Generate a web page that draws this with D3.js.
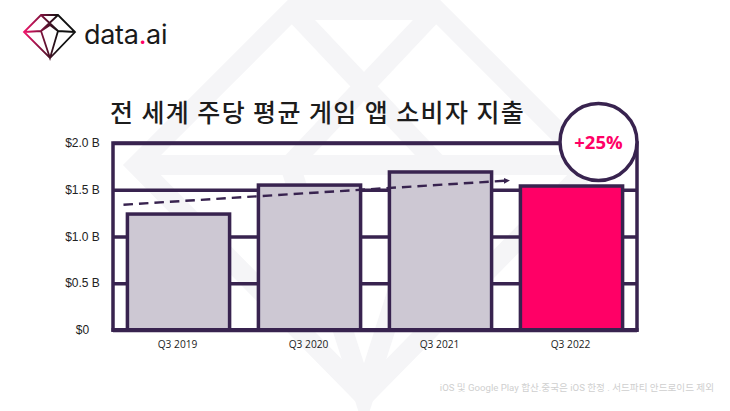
<!DOCTYPE html>
<html>
<head>
<meta charset="utf-8">
<script src="https://cdn.jsdelivr.net/npm/d3@7"></script>
<style>
    html, body { margin: 0; padding: 0; background: #fff; }
    svg { display: block; }
</style>
</head>
<body>
<div id="chart"></div>
<script>
var categories = ['Q3 2019', 'Q3 2020', 'Q3 2021', 'Q3 2022'];
var spend = [1.24, 1.55, 1.69, 1.54];
var yTicks = [0, 0.5, 1.0, 1.5, 2.0];
var yTickLabels = ['$0', '$0.5 B', '$1.0 B', '$1.5 B', '$2.0 B'];
var trendIndex = [-0.42, 2.53];
var trendValues = [1.34, 1.6];

var titleText = '전 세계 주당 평균 게임 앱 소비자 지출';
var growthText = '+25%';
var footnoteText = 'iOS 및 Google Play 합산.중국은 iOS 한정 . 서드파티 안드로이드 제외';

var width = 730, height = 411;
var dark = '#38234f', grey = '#cdc8d3', pink = '#ff0066', faint = '#f5f5f7';
var margin = {top: 143, right: 93, bottom: 81, left: 113};

var svg = d3.select('#chart').append('svg')
    .attr('width', width).attr('height', height);

// watermark gem behind everything
var gem = svg.append('g')
    .attr('fill', 'none')
    .attr('stroke', faint)
    .attr('stroke-width', 20)
    .attr('stroke-linejoin', 'miter')
    .attr('stroke-miterlimit', 6);
gem.append('path').attr('d', 'M292,10 L436,10 L591,165 L364,396 L137,165 Z');
gem.append('path').attr('d', 'M137,165 L591,165');
gem.append('path').attr('d', 'M292,10 L438,165 L364,396 L290,165 L436,10');

// logo
var defs = svg.append('defs');
var logoGrad = defs.append('linearGradient')
    .attr('id', 'logoGrad')
    .attr('gradientUnits', 'userSpaceOnUse')
    .attr('x1', 24).attr('x2', 58).attr('y1', 32).attr('y2', 32);
logoGrad.append('stop').attr('offset', '0%').attr('stop-color', '#f0146a');
logoGrad.append('stop').attr('offset', '100%').attr('stop-color', '#111111');

svg.append('path')
    .attr('d', 'M41,15 L58,15 L75,32 L50,58 L24,32 Z M24,32 L41,31 L50,58 L58,31 L75,32 M41,15 L58,31 M58,15 L41,31 M41,31 L50,25 L58,31')
    .attr('fill', 'none')
    .attr('stroke', 'url(#logoGrad)')
    .attr('stroke-width', 1.8)
    .attr('stroke-linejoin', 'miter');

var logoText = svg.append('text')
    .attr('x', 84).attr('y', 44)
    .style('font-family', 'Inter, sans-serif')
    .style('font-size', '27px')
    .style('font-weight', 400)
    .style('letter-spacing', '-0.3px')
    .style('fill', '#1a1a1a');
logoText.append('tspan').text('data');
logoText.append('tspan').text('.').style('fill', pink);
logoText.append('tspan').text('ai');

// title
svg.append('text')
    .attr('x', 110).attr('y', 122)
    .text(titleText)
    .style('font-family', '"Noto Sans CJK KR", sans-serif')
    .style('font-size', '25px')
    .style('font-weight', 500)
    .style('letter-spacing', '1.4px')
    .style('fill', '#1c1c1c');

var x = d3.scaleBand()
    .domain(categories)
    .range([margin.left, width - margin.right])
    .paddingInner(0.22)
    .paddingOuter(0.11);

var y = d3.scaleLinear()
    .domain([0, 2])
    .range([height - margin.bottom, margin.top]);

// index scale so the trend line follows the category positions
var xIndex = d3.scaleLinear()
    .domain([0, categories.length - 1])
    .range([x(categories[0]) + x.bandwidth() / 2, x(categories[categories.length - 1]) + x.bandwidth() / 2]);

// y axis with grid lines
var yAxis = d3.axisLeft(y)
    .tickValues(yTicks)
    .tickSize(-(width - margin.left - margin.right))
    .tickPadding(13)
    .tickFormat(function (d, i) { return yTickLabels[i]; });

var yG = svg.append('g')
    .attr('transform', 'translate(' + margin.left + ',0)')
    .call(yAxis);
yG.select('.domain').remove();
yG.selectAll('.tick line')
    .attr('stroke', dark)
    .attr('stroke-width', 3.5);
yG.selectAll('.tick text')
    .attr('x', 82.5 - margin.left)
    .attr('dy', '0.3em')
    .style('text-anchor', 'middle')
    .style('font-family', '"Liberation Sans", Arial, sans-serif')
    .style('font-size', '12px')
    .style('fill', '#222');

// frame sides
svg.append('rect')
    .attr('x', margin.left).attr('y', y(2))
    .attr('width', width - margin.left - margin.right)
    .attr('height', y(0) - y(2))
    .attr('fill', 'none')
    .attr('stroke', dark)
    .attr('stroke-width', 3.5);

// bars
svg.selectAll('rect.bar')
    .data(spend)
    .enter()
    .append('rect')
    .attr('class', 'bar')
    .attr('x', function (d, i) { return x(categories[i]); })
    .attr('y', function (d) { return y(d); })
    .attr('width', x.bandwidth())
    .attr('height', function (d) { return y(0) - y(d); })
    .attr('fill', function (d, i) { return i === categories.length - 1 ? pink : grey; })
    .attr('stroke', dark)
    .attr('stroke-width', 3.5);

// baseline on top of the bars
svg.append('line')
    .attr('x1', margin.left - 1.5).attr('x2', width - margin.right + 1.5)
    .attr('y1', y(0)).attr('y2', y(0))
    .attr('stroke', dark)
    .attr('stroke-width', 4);

// x axis labels
var xAxis = d3.axisBottom(x).tickSize(0).tickPadding(11);
var xG = svg.append('g')
    .attr('transform', 'translate(-1,' + y(0) + ')')
    .call(xAxis);
xG.select('.domain').remove();
xG.selectAll('.tick text')
    .style('font-family', '"Open Sans", sans-serif')
    .style('font-size', '10.2px')
    .style('fill', '#222');

// dashed trend arrow
defs.append('marker')
    .attr('id', 'arrow')
    .attr('markerUnits', 'userSpaceOnUse')
    .attr('markerWidth', 8).attr('markerHeight', 8)
    .attr('refX', 6).attr('refY', 3)
    .attr('orient', 'auto')
    .append('path')
    .attr('d', 'M0,0 L6,3 L0,6 Z')
    .attr('fill', dark);

var trendLine = d3.line()
    .x(function (d, i) { return xIndex(trendIndex[i]); })
    .y(function (d) { return y(d); });

svg.append('path')
    .attr('d', trendLine(trendValues))
    .attr('fill', 'none')
    .attr('stroke', dark)
    .attr('stroke-width', 2.4)
    .attr('stroke-dasharray', '9.5,6')
    .attr('marker-end', 'url(#arrow)');

// growth badge sits on the top right corner of the frame
var badgeX = width - margin.right - 38.5;
svg.append('circle')
    .attr('cx', badgeX).attr('cy', y(2) - 1)
    .attr('r', 38.5)
    .attr('fill', '#fff')
    .attr('stroke', dark)
    .attr('stroke-width', 3.5);
svg.append('text')
    .attr('x', badgeX).attr('y', y(2) + 5.5)
    .text(growthText)
    .style('text-anchor', 'middle')
    .style('font-family', '"Open Sans", sans-serif')
    .style('font-size', '18.5px')
    .style('font-weight', 700)
    .style('fill', pink);

// footnote
svg.append('text')
    .attr('x', 714).attr('y', 391)
    .text(footnoteText)
    .style('text-anchor', 'end')
    .style('font-family', 'Roboto, "Noto Sans CJK KR", sans-serif')
    .style('font-size', '9.6px')
    .style('fill', '#cfcfcf');
</script>
</body>
</html>
